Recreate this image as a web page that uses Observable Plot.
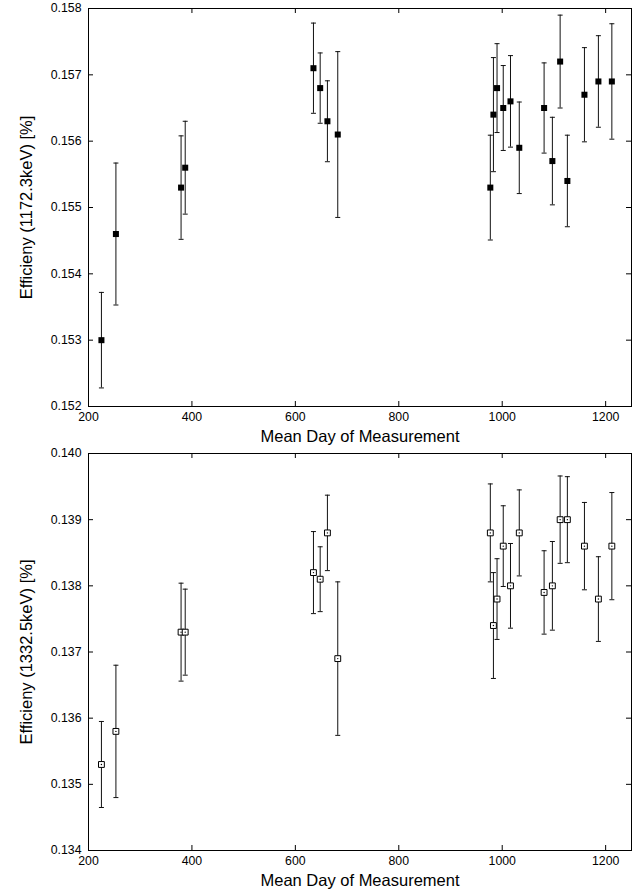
<!DOCTYPE html>
<html>
<head>
<meta charset="utf-8">
<script src="https://cdn.jsdelivr.net/npm/d3@7"></script>
<script src="https://cdn.jsdelivr.net/npm/@observablehq/plot@0.6"></script>
<style>
  html, body { margin: 0; padding: 0; background: #fff; }
  #chart svg { display: block; }
</style>
</head>
<body>
<div id="chart"></div>
<script>
// Mean day of each measurement (shared by both panels)
const days = [225, 253, 379, 387, 635, 648, 662, 682, 977, 983, 990, 1002, 1016, 1033, 1081, 1097, 1112, 1126, 1159, 1186, 1212];

// Efficiency at 1172.3 keV [%] and its uncertainty
const eff1172 = [0.1530, 0.1546, 0.1553, 0.1556, 0.1571, 0.1568, 0.1563, 0.1561, 0.1553, 0.1564, 0.1568, 0.1565, 0.1566, 0.1559, 0.1565, 0.1557, 0.1572, 0.1554, 0.1567, 0.1569, 0.1569];
const err1172 = [0.00072, 0.00107, 0.00078, 0.00070, 0.00068, 0.00053, 0.00061, 0.00125, 0.00079, 0.00086, 0.00067, 0.00064, 0.00069, 0.00069, 0.00068, 0.00066, 0.00070, 0.00069, 0.00071, 0.00069, 0.00087];

// Efficiency at 1332.5 keV [%] and its uncertainty
const eff1332 = [0.1353, 0.1358, 0.1373, 0.1373, 0.1382, 0.1381, 0.1388, 0.1369, 0.1388, 0.1374, 0.1378, 0.1386, 0.1380, 0.1388, 0.1379, 0.1380, 0.1390, 0.1390, 0.1386, 0.1378, 0.1386];
const err1332 = [0.00065, 0.00100, 0.00074, 0.00065, 0.00062, 0.00049, 0.00057, 0.00116, 0.00074, 0.00080, 0.00061, 0.00061, 0.00064, 0.00065, 0.00063, 0.00067, 0.00066, 0.00065, 0.00066, 0.00064, 0.00081];

// Axis ticks and labels
const xTicks = [200, 400, 600, 800, 1000, 1200];
const yTicks1172 = [0.152, 0.153, 0.154, 0.155, 0.156, 0.157, 0.158];
const yTicks1332 = [0.134, 0.135, 0.136, 0.137, 0.138, 0.139, 0.140];
const xTitle = "Mean Day of Measurement";
const yTitle1172 = "Efficieny (1172.3keV) [%]";
const yTitle1332 = "Efficieny (1332.5keV) [%]";

const W = 637;
const FONT = "'Liberation Sans', Arial, Helvetica, sans-serif";

const capSymbol = {
  draw(ctx) { ctx.moveTo(-2.5, 0); ctx.lineTo(2.5, 0); }
};

function panel({vals, errs, yTicks, yTitle, open, height, marginTop, marginBottom}) {
  const marginLeft = 88, marginRight = 6;
  const innerH = height - marginTop - marginBottom;
  const innerW = W - marginLeft - marginRight;
  const data = days.map((d, i) => ({day: d, v: vals[i], lo: vals[i] - errs[i], hi: vals[i] + errs[i]}));
  const marks = [
    Plot.frame({stroke: "black", strokeWidth: 1}),
    // inward ticks on all four sides
    Plot.ruleX(xTicks, {x: d => d, insetBottom: innerH - 5, stroke: "black"}),
    Plot.ruleX(xTicks, {x: d => d, insetTop: innerH - 5, stroke: "black"}),
    Plot.ruleY(yTicks, {y: d => d, insetRight: innerW - 5, stroke: "black"}),
    Plot.ruleY(yTicks, {y: d => d, insetLeft: innerW - 5, stroke: "black"}),
    Plot.axisX({ticks: xTicks, tickSize: 0, tickPadding: 6, label: null, fontSize: 12.3, tickFormat: d => String(d)}),
    Plot.axisY({ticks: yTicks, tickSize: 0, tickPadding: 7, label: null, fontSize: 12.3, tickFormat: d3.format(".3f")}),
    // error bars
    Plot.ruleX(data, {x: "day", y1: "lo", y2: "hi", stroke: "#111", strokeWidth: 1}),
    Plot.dot(data, {x: "day", y: "lo", symbol: capSymbol, r: 2.5, stroke: "#111", fill: "none", strokeWidth: 1}),
    Plot.dot(data, {x: "day", y: "hi", symbol: capSymbol, r: 2.5, stroke: "#111", fill: "none", strokeWidth: 1}),
  ];
  if (open) {
    marks.push(Plot.dot(data, {x: "day", y: "v", symbol: "square", r: 3.3, fill: "white", stroke: "black", strokeWidth: 1}));
    marks.push(Plot.dot(data, {x: "day", y: "v", r: 0.7, fill: "black", stroke: "none"}));
  } else {
    marks.push(Plot.dot(data, {x: "day", y: "v", symbol: "square", r: 3.4, fill: "black", stroke: "none"}));
  }
  marks.push(Plot.text([xTitle], {frameAnchor: "bottom", dy: 30.5, lineAnchor: "middle", textAnchor: "middle", fontSize: 16.5, fill: "black"}));
  marks.push(Plot.text([yTitle], {frameAnchor: "left", dx: -62, rotate: -90, lineAnchor: "middle", textAnchor: "middle", fontSize: 16.5, fill: "black"}));
  return Plot.plot({
    width: W,
    height,
    marginLeft, marginRight, marginTop, marginBottom,
    style: {fontFamily: FONT, background: "white", color: "black", overflow: "visible"},
    x: {domain: [200, 1250], axis: null},
    y: {domain: [yTicks[0], yTicks[yTicks.length - 1]], axis: null},
    marks
  });
}

const chart = document.getElementById("chart");
chart.appendChild(panel({vals: eff1172, errs: err1172, yTicks: yTicks1172, yTitle: yTitle1172, open: false, height: 445, marginTop: 8, marginBottom: 39}));
chart.appendChild(panel({vals: eff1332, errs: err1332, yTicks: yTicks1332, yTitle: yTitle1332, open: true, height: 445, marginTop: 8, marginBottom: 40}));
</script>
</body>
</html>
